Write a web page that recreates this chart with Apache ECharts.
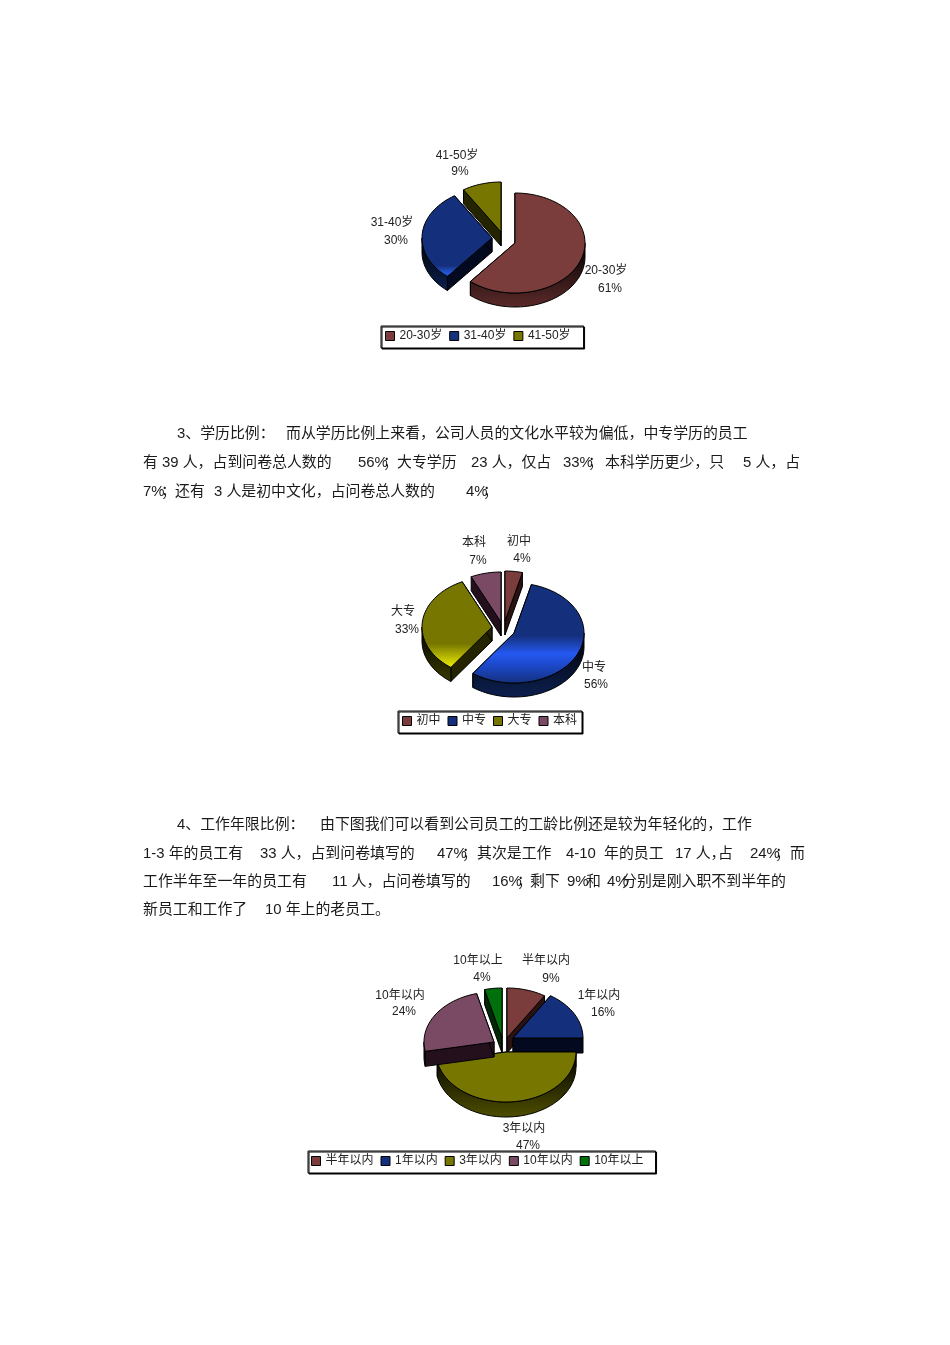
<!DOCTYPE html>
<html><head><meta charset="utf-8">
<style>html,body{margin:0;padding:0;background:#fff}#c{width:950px;height:1345px}</style>
<script src="https://cdn.jsdelivr.net/npm/echarts@6/dist/echarts.min.js"></script>
</head><body><div id="c"></div>
<script>
// ---- data ----
const ageCategories = ['20-30岁', '31-40岁', '41-50岁'];
const agePercents = [61, 30, 9];
const eduCategories = ['初中', '中专', '大专', '本科'];
const eduPercents = [4, 56, 33, 7];
const tenureCategories = ['半年以内', '1年以内', '3年以内', '10年以内', '10年以上'];
const tenurePercents = [9, 16, 47, 24, 4];

// ---- body text ----
const bodyLines = [
  [177, 434, '3、学历比例：'], [286, 434, '而从学历比例上来看，公司人员的文化水平较为偏低，中专学历的员工'],
  [143, 463, '有 39 人，占到问卷总人数的'], [358, 463, '56%'], [383, 463, '；'], [397, 463, '大专学历'], [471, 463, '23 人，仅占'],
  [563, 463, '33%'], [588, 463, '；'], [605, 463, '本科学历更少，只'], [743, 463, '5 人，占'],
  [143, 492, '7%'], [161, 492, '；'], [175, 492, '还有'], [214, 492, '3 人是初中文化，占问卷总人数的'], [466, 492, '4%'], [483, 492, '；'],
  [177, 825, '4、工作年限比例：'], [320, 825, '由下图我们可以看到公司员工的工龄比例还是较为年轻化的，工作'],
  [143, 854, '1-3 年的员工有'], [260, 854, '33 人，占到问卷填写的'], [437, 854, '47%'], [462, 854, '；'], [477, 854, '其次是工作'],
  [566, 854, '4-10'], [604, 854, '年的员工'], [675, 854, '17 人，'], [718, 854, '占'], [750, 854, '24%'], [775, 854, '；'], [790, 854, '而'],
  [143, 882, '工作半年至一年的员工有'], [332, 882, '11 人，占问卷填写的'], [492, 882, '16%'], [517, 882, '；'], [530, 882, '剩下'],
  [567, 882, '9%'], [586, 882, '和'], [607, 882, '4%'], [622, 882, '分别是刚入职不到半年的'],
  [143, 910, '新员工和工作了'], [265, 910, '10 年上的老员工。']
];

// ---- styling / layout ----
const FONT = '"Liberation Sans","Noto Sans CJK SC",sans-serif';
const RED = '#7b3c3c', BLUE = '#14307c', OLIVE = '#767600', PLUM = '#7a4a64', GREEN = '#00700a';
const stops = (arr) => new echarts.graphic.LinearGradient(0, 0, 0, 1, arr.map(([offset, color]) => ({ offset, color })));
const pies = [
  {
    names: ageCategories, values: agePercents, rx: 70, ry: 50, d: 14,
    legend: { left: 381, top: 326, pad: [4, 13, 6, 4], gap: 7 },
    slices: [
      { c: [515, 243], color: RED, wall: '#5c2a2a', cut: '#2a1212', order: 3, label: [606, 271, 610, 289] },
      { c: [492, 238], color: BLUE, wall: '#0c2050', cut: '#030a20', order: 2, label: [392, 223, 396, 241],
        top: [[0, BLUE], [0.86, BLUE], [0.95, '#2458d8'], [1, '#1a45b0']] },
      { c: [501, 232], color: OLIVE, wall: '#3a3a00', cut: '#242400', order: 1, label: [457, 156, 460, 172] }
    ]
  },
  {
    names: eduCategories, values: eduPercents, rx: 70, ry: 50, d: 14,
    legend: { left: 398, top: 711, pad: [4, 5, 6, 4], gap: 7 },
    slices: [
      { c: [505, 621], color: RED, wall: '#3a1c1c', cut: '#2a1212', order: 2, label: [519, 542, 522, 559] },
      { c: [514, 633], color: BLUE, wall: '#0c2050', cut: '#030a20', order: 4, label: [594, 668, 596, 685],
        top: [[0, BLUE], [0.52, BLUE], [0.7, '#2458f0'], [0.82, '#1c48c8'], [1, BLUE]] },
      { c: [492, 627], color: OLIVE, wall: '#3a3a00', cut: '#242400', order: 3, label: [403, 612, 407, 630],
        top: [[0, OLIVE], [0.72, OLIVE], [1, '#f0f000']] },
      { c: [501, 622], color: PLUM, wall: '#3a2030', cut: '#24101c', order: 1, label: [474, 543, 478, 561] }
    ]
  },
  {
    names: tenureCategories, values: tenurePercents, rx: 70, ry: 50, d: 15,
    legend: { left: 308, top: 1151, pad: [4, 12, 6, 3], gap: 7 },
    slices: [
      { c: [507, 1038], color: RED, wall: '#3a1c1c', cut: '#2a1212', order: 2, label: [546, 961, 551, 979] },
      { c: [513, 1038], color: BLUE, wall: '#08153c', cut: '#030a20', order: 3, label: [599, 996, 603, 1013] },
      { c: [506, 1052], color: OLIVE, wall: '#4e4e00', cut: '#242400', order: 4, label: [524, 1129, 528, 1146] },
      { c: [494, 1042], color: PLUM, wall: '#2e1a26', cut: '#24101c', order: 5, label: [400, 996, 404, 1012] },
      { c: [502, 1038], color: GREEN, wall: '#003a06', cut: '#002a04', order: 1, label: [478, 961, 482, 978] }
    ]
  }
];

const series = [];
const legends = [];
pies.forEach((pie) => {
  const total = pie.values.reduce((a, b) => a + b, 0);
  let acc = 0;
  pie.names.forEach((name, i) => {
    const a0 = acc / total * 360;
    acc += pie.values[i];
    const a1 = acc / total * 360;
    const s = pie.slices[i];
    const pt = (a, dy) => {
      const t = a * Math.PI / 180;
      return [s.c[0] + pie.rx * Math.sin(t), s.c[1] - pie.ry * Math.cos(t) + (dy || 0)];
    };
    const arc = (from, to, dy) => {
      const out = [];
      const n = Math.max(2, Math.ceil((to - from) / 3));
      for (let k = 0; k <= n; k++) out.push(pt(from + (to - from) * k / n, dy));
      return out;
    };
    series.push({
      type: 'custom', name, coordinateSystem: 'none', z: 2 + s.order, animation: false, silent: true,
      itemStyle: { color: s.color },
      data: [pie.values[i]],
      renderItem(params, api) {
        const value = api.value(0);
        const kids = [];
        const v = s.c, d = pie.d;
        const line = { stroke: '#000', lineWidth: 1 };
        [a0, a1].forEach((a) => {
          const p = pt(a);
          kids.push({ type: 'polygon', shape: { points: [v, p, [p[0], p[1] + d], [v[0], v[1] + d]] }, style: { fill: s.cut, ...line } });
        });
        const w0 = Math.max(a0, 90), w1 = Math.min(a1, 270);
        if (w1 > w0) {
          kids.push({
            type: 'polygon', shape: { points: arc(w0, w1, 0).concat(arc(w0, w1, d).reverse()) },
            style: { fill: stops([[0, '#000'], [1, s.wall]]), ...line }
          });
        }
        kids.push({
          type: 'polygon', shape: { points: [v].concat(arc(a0, a1, 0)) },
          style: { fill: s.top ? stops(s.top) : s.color, ...line }
        });
        const txt = (x, y, text) => ({
          type: 'text', style: { x, y, text, fill: '#222', fontSize: 12, fontFamily: FONT, textAlign: 'center', textVerticalAlign: 'middle' }
        });
        kids.push(txt(s.label[0], s.label[1], name));
        kids.push(txt(s.label[2], s.label[3], value + '%'));
        return { type: 'group', children: kids };
      }
    });
  });
  legends.push({
    data: pie.names, left: pie.legend.left, top: pie.legend.top, orient: 'horizontal',
    icon: 'rect', itemWidth: 9, itemHeight: 9, itemGap: pie.legend.gap, padding: pie.legend.pad,
    backgroundColor: '#fff', borderColor: '#000', borderWidth: 1,
    shadowColor: '#000', shadowBlur: 0, shadowOffsetX: 1, shadowOffsetY: 1,
    selectedMode: false,
    itemStyle: { borderColor: '#000', borderWidth: 1 },
    textStyle: { color: '#222', fontSize: 12, fontFamily: FONT }
  });
});

const graphicTexts = bodyLines.map(([x, y, text]) => ({
  type: 'text', x, y, silent: true,
  style: { text, fill: '#1a1a1a', fontSize: 14.9, fontFamily: FONT, textVerticalAlign: 'middle' }
}));

const chart = echarts.init(document.getElementById('c'), null, { renderer: 'canvas' });
chart.setOption({
  backgroundColor: '#fff', animation: false,
  legend: legends, series, graphic: { elements: graphicTexts }
});
</script></body></html>
